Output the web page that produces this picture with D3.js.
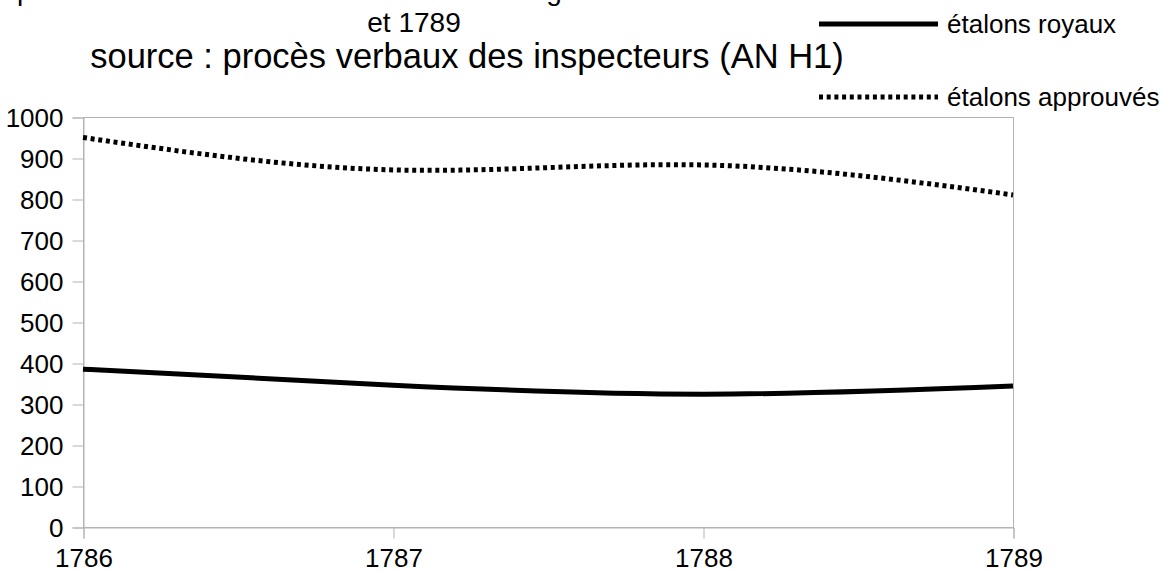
<!DOCTYPE html>
<html>
<head>
<meta charset="utf-8">
<script src="https://cdn.jsdelivr.net/npm/d3@7"></script>
<style>
  body { margin: 0; background: #fff; }
  text { font-family: "Liberation Sans", Arial, sans-serif; fill: #000; }
</style>
</head>
<body>
<div id="chart"></div>
<script>
var years = [1786, 1787, 1788, 1789];
var royaux = [385, 346, 324, 344];
var approuves = [950, 871, 883, 810];
var yTicks = [0, 100, 200, 300, 400, 500, 600, 700, 800, 900, 1000];
var seriesNames = ["étalons royaux", "étalons approuvés"];
var titleLines = [
  "poids et mesures : étalons vérifiés dans la généralité entre 1786",
  "et 1789"
];
var subtitle = "source : procès verbaux des inspecteurs (AN H1)";

var svgWidth = 1161;
var svgHeight = 572;
var margin = { top: 117, right: 148, bottom: 45, left: 83 };
var width = svgWidth - margin.left - margin.right;
var height = svgHeight - margin.top - margin.bottom;

var svg = d3.select("#chart")
  .append("svg")
  .attr("width", svgWidth)
  .attr("height", svgHeight);

// title (first line runs past the top edge, as in the original)
svg.selectAll(".title")
  .data(titleLines)
  .enter()
  .append("text")
  .attr("class", "title")
  .attr("x", 414)
  .attr("y", (d, i) => 0 + i * 32)
  .attr("text-anchor", "middle")
  .style("font-size", "28px")
  .text(d => d);

svg.append("text")
  .attr("x", 467)
  .attr("y", 68)
  .attr("text-anchor", "middle")
  .style("font-size", "34.5px")
  .text(subtitle);

var chartGroup = svg.append("g")
  .attr("transform", `translate(${margin.left}, ${margin.top})`);

var x = d3.scalePoint()
  .domain(years)
  .range([0, width]);

var y = d3.scaleLinear()
  .domain([0, 1000])
  .range([height, 0]);

// plot border
chartGroup.append("rect")
  .attr("x", 0.5)
  .attr("y", 0.5)
  .attr("width", width)
  .attr("height", height)
  .attr("fill", "none")
  .attr("stroke", "#b3b3b3");

var yAxis = d3.axisLeft(y).tickValues(yTicks).tickFormat(d3.format("d")).tickSize(11).tickPadding(9);
var xAxis = d3.axisBottom(x).tickSize(11).tickPadding(10);

var gy = chartGroup.append("g").attr("transform", "translate(0.5,0.5)").call(yAxis);
var gx = chartGroup.append("g").attr("transform", `translate(0.5, ${height + 0.5})`).call(xAxis);

[gx, gy].forEach(function(g) {
  g.selectAll("path, line").attr("stroke", "#b3b3b3");
  g.selectAll("text").style("font-size", "26px").attr("fill", "#000");
});
gy.selectAll("text").attr("dy", "0.36em");
gx.selectAll("text").attr("dy", "0.71em");

var line = d3.line()
  .x((d, i) => x(years[i]))
  .y(d => y(d))
  .curve(d3.curveNatural);

chartGroup.append("path")
  .datum(royaux)
  .attr("d", line)
  .attr("fill", "none")
  .attr("stroke", "#000")
  .attr("stroke-width", 5);

chartGroup.append("path")
  .datum(approuves)
  .attr("d", line)
  .attr("fill", "none")
  .attr("stroke", "#000")
  .attr("stroke-width", 5)
  .attr("stroke-dasharray", "4,3.7");

// legend
var legend = svg.append("g");
var legendY = [24, 97];
seriesNames.forEach(function(name, i) {
  legend.append("line")
    .attr("x1", 819).attr("x2", 938)
    .attr("y1", legendY[i]).attr("y2", legendY[i])
    .attr("stroke", "#000")
    .attr("stroke-width", 5)
    .attr("stroke-dasharray", i === 1 ? "4,3.7" : null);
  legend.append("text")
    .attr("x", 947)
    .attr("y", legendY[i] + 9)
    .style("font-size", "26px")
    .text(name);
});
</script>
</body>
</html>
